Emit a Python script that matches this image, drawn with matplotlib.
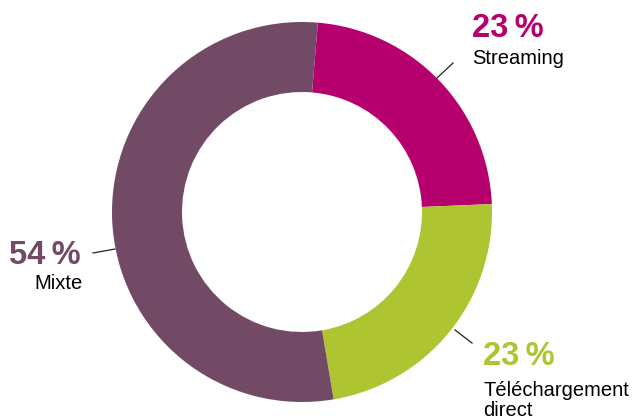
import matplotlib.pyplot as plt

plt.rcParams['font.family'] = ['Liberation Sans', 'DejaVu Sans']

# data
categories = ['Streaming', 'Téléchargement\ndirect', 'Mixte']
shares = [23, 23, 54]
colors = ['#B5006E', '#AEC430', '#734A66']

H = 420  # figure height in px, used to flip y

fig = plt.figure(figsize=(6.32, 4.2), dpi=100)
ax = fig.add_axes([0, 0, 1, 1])

ax.pie(shares, colors=colors, startangle=85.2, counterclock=False,
       center=(302, H - 212), radius=190,
       wedgeprops=dict(width=70, linewidth=0))

ax.set_xlim(0, 632)
ax.set_ylim(0, H)
ax.set_aspect('equal')
ax.axis('off')

# label positions (px, top-left origin): pct x, pct baseline, name x, last-line baseline, align
label_pos = [(472, 37, 472, 64, 'left'),
             (483, 365, 483, 416, 'left'),
             (81, 264, 83, 289, 'right')]
# leader lines (px)
leaders = [((437, 78), (453, 63)),
           ((455, 330), (472, 343)),
           ((93, 253), (115, 249))]

for i in range(len(shares)):
    px, py, nx, ny, ha = label_pos[i]
    ax.text(px, H - py, f'{shares[i]}\u2009%', color=colors[i], fontsize=23.5,
            fontweight='bold', ha=ha, va='baseline')
    ax.text(nx, H - ny, categories[i], color='black', fontsize=14.5,
            ha=ha, va='baseline', linespacing=1.1)
    (x0, y0), (x1, y1) = leaders[i]
    ax.plot([x0, x1], [H - y0, H - y1], color='#222222', lw=0.9)

plt.savefig('out.png', dpi=100)
